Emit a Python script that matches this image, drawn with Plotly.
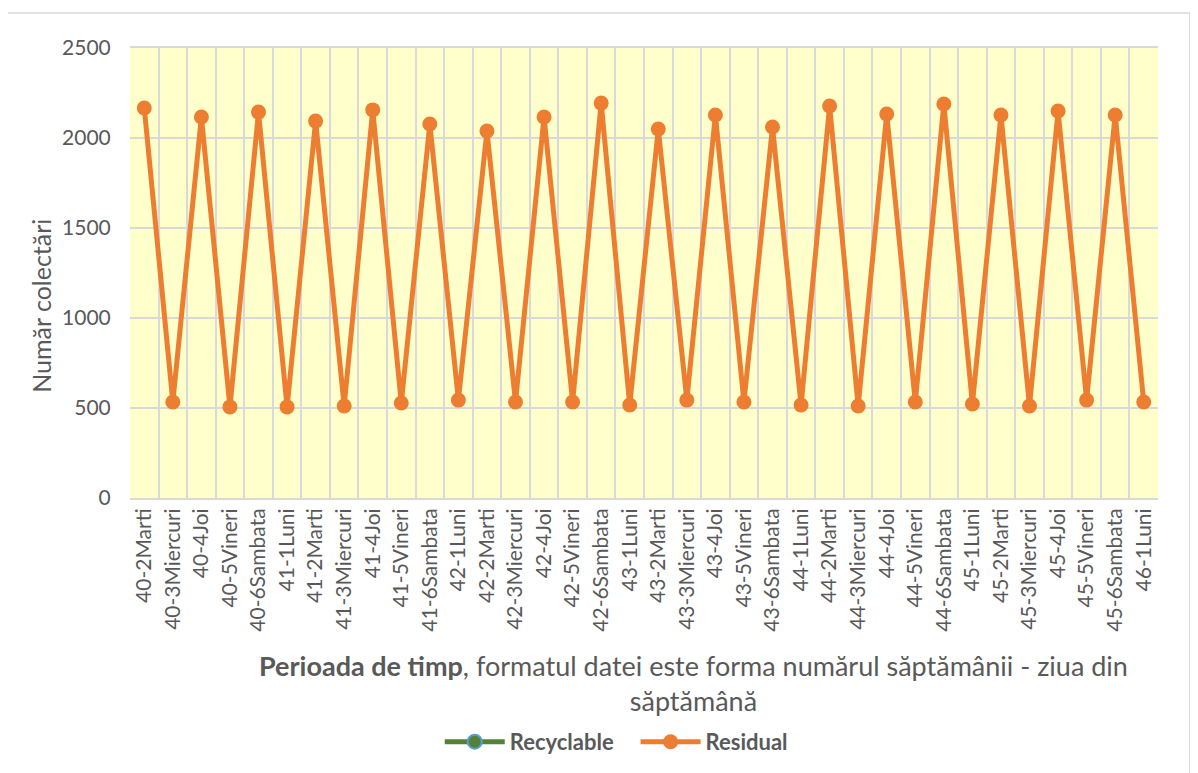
import plotly.graph_objects as go

categories = ["40-2Marti", "40-3Miercuri", "40-4Joi", "40-5Vineri", "40-6Sambata",
              "41-1Luni", "41-2Marti", "41-3Miercuri", "41-4Joi", "41-5Vineri", "41-6Sambata",
              "42-1Luni", "42-2Marti", "42-3Miercuri", "42-4Joi", "42-5Vineri", "42-6Sambata",
              "43-1Luni", "43-2Marti", "43-3Miercuri", "43-4Joi", "43-5Vineri", "43-6Sambata",
              "44-1Luni", "44-2Marti", "44-3Miercuri", "44-4Joi", "44-5Vineri", "44-6Sambata",
              "45-1Luni", "45-2Marti", "45-3Miercuri", "45-4Joi", "45-5Vineri", "45-6Sambata",
              "46-1Luni"]

residual = [2167, 533, 2117, 506, 2144,
            506, 2094, 511, 2156, 528, 2078,
            544, 2039, 533, 2117, 533, 2194,
            517, 2050, 544, 2128, 533, 2061,
            517, 2178, 511, 2133, 533, 2189,
            522, 2128, 511, 2150, 544, 2128,
            533]

recyclable = [None] * len(categories)

yticks = [0, 500, 1000, 1500, 2000, 2500]

FONT = "Lato"
GREY = "#595959"

fig = go.Figure()
fig.add_trace(go.Scatter(
    x=categories, y=recyclable, name="<b>Recyclable</b>\u00a0\u00a0\u00a0", mode="lines+markers",
    line=dict(color="#548235", width=5),
    marker=dict(size=14, color="#548235", line=dict(color="#5B9BD5", width=2)),
))
fig.add_trace(go.Scatter(
    x=categories, y=residual, name="<b>Residual</b>", mode="lines+markers",
    line=dict(color="#ED7D31", width=5),
    marker=dict(size=15, color="#ED7D31"),
))

fig.update_layout(
    width=1198, height=773,
    margin=dict(l=122, r=48, t=40, b=283),
    paper_bgcolor="white",
    plot_bgcolor="#FFFFCC",
    font=dict(family=FONT, color=GREY),
    showlegend=True,
    legend=dict(orientation="h", x=0.473, xanchor="center", y=-0.542, yanchor="middle",
                font=dict(size=22, color=GREY, family=FONT), itemwidth=60),
    xaxis=dict(
        type="category", tickson="boundaries", showgrid=True, gridcolor="#D9D9D9", gridwidth=2,
        tickangle=-90, tickfont=dict(size=21, color=GREY),
        ticks="outside", ticklen=6, tickcolor="rgba(0,0,0,0)",
        showline=True, linecolor="#D9D9D9", linewidth=2, mirror=True,
        range=[-0.5, len(categories) - 0.5],
    ),
    yaxis=dict(
        range=[0, 2500], tickvals=yticks, showgrid=True, gridcolor="#D9D9D9", gridwidth=2,
        tickfont=dict(size=21, color=GREY),
        ticks="outside", ticklen=14, tickcolor="rgba(0,0,0,0)", zeroline=False,
    ),
    shapes=[dict(type="rect", xref="paper", yref="paper",
                 x0=-0.1196, x1=1.031, y0=-0.65, y1=1.0778,
                 line=dict(color="#D9D9D9", width=1.5), layer="below")],
    annotations=[
        dict(
            xref="paper", yref="paper", x=0.548, y=-0.411, xanchor="center", yanchor="middle",
            showarrow=False, align="center",
            text="<b>Perioada de timp</b>, formatul datei este forma numărul săptămânii - ziua din<br>săptămână",
            font=dict(size=27, color=GREY, family=FONT),
        ),
        dict(
            xref="paper", yref="paper", x=-0.0866, y=0.427, xanchor="center", yanchor="middle",
            showarrow=False, textangle=-90, text="Număr colectări",
            font=dict(size=25, color=GREY, family=FONT),
        ),
    ],
)

fig.write_html("out.html")
